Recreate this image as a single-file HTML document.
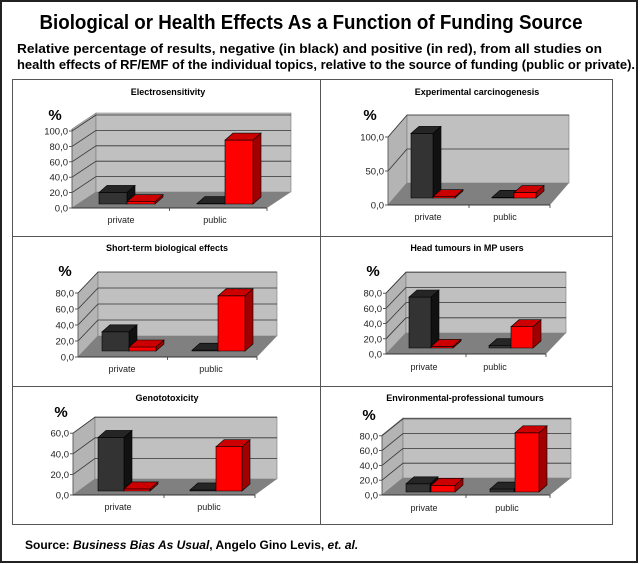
<!DOCTYPE html>
<html><head><meta charset="utf-8"><style>
html,body{margin:0;padding:0;background:#fff;width:640px;height:564px;overflow:hidden}
svg{display:block}
text{font-family:"Liberation Sans",Arial,sans-serif}
</style></head><body>
<svg id="s" width="640" height="564" viewBox="0 0 640 564" xmlns="http://www.w3.org/2000/svg">
<rect x="0" y="0" width="640" height="564" fill="#fff"/>
<rect x="1" y="1" width="636" height="561" fill="none" stroke="#222" stroke-width="2"/>
<text x="311" y="29" text-anchor="middle" font-size="20" font-weight="bold" textLength="543" lengthAdjust="spacingAndGlyphs">Biological or Health Effects As a Function of Funding Source</text>
<text x="17" y="53" font-size="12.5" font-weight="bold" textLength="585" lengthAdjust="spacingAndGlyphs">Relative percentage of results, negative (in black) and positive (in red), from all studies on</text>
<text x="17" y="69" font-size="12.5" font-weight="bold" textLength="618" lengthAdjust="spacingAndGlyphs">health effects of RF/EMF of the individual topics, relative to the source of funding (public or private).</text>
<rect x="12.5" y="79.5" width="600" height="445" fill="none" stroke="#555" stroke-width="1"/>
<line x1="320.5" y1="79" x2="320.5" y2="525" stroke="#555"/>
<line x1="12" y1="236.5" x2="613" y2="236.5" stroke="#555"/>
<line x1="12" y1="386.5" x2="613" y2="386.5" stroke="#555"/>
<text x="168" y="95" text-anchor="middle" font-size="9" font-weight="bold">Electrosensitivity</text>
<text x="477" y="95" text-anchor="middle" font-size="9" font-weight="bold">Experimental carcinogenesis</text>
<text x="167" y="251" text-anchor="middle" font-size="9" font-weight="bold">Short-term biological effects</text>
<text x="467" y="251" text-anchor="middle" font-size="9" font-weight="bold">Head tumours in MP users</text>
<text x="167" y="401" text-anchor="middle" font-size="9" font-weight="bold">Genototoxicity</text>
<text x="465" y="401" text-anchor="middle" font-size="9" font-weight="bold">Environmental-professional tumours</text>
<text x="55" y="120" text-anchor="middle" font-size="15" font-weight="bold">%</text>
<text x="370" y="120" text-anchor="middle" font-size="15" font-weight="bold">%</text>
<text x="65" y="276" text-anchor="middle" font-size="15" font-weight="bold">%</text>
<text x="373" y="276" text-anchor="middle" font-size="15" font-weight="bold">%</text>
<text x="61" y="417" text-anchor="middle" font-size="15" font-weight="bold">%</text>
<text x="369" y="420" text-anchor="middle" font-size="15" font-weight="bold">%</text>
<g font-size="9" fill="#222" text-anchor="middle">
<text x="121" y="223">private</text><text x="215" y="223">public</text>
<text x="428" y="220">private</text><text x="505" y="220">public</text>
<text x="122" y="372">private</text><text x="211" y="372">public</text>
<text x="424" y="370">private</text><text x="495" y="370">public</text>
<text x="118" y="510">private</text><text x="209" y="510">public</text>
<text x="424" y="511">private</text><text x="507" y="511">public</text>
</g>
<text x="25" y="549" font-size="12" font-weight="bold">Source:  <tspan font-style="italic">Business Bias As Usual</tspan>, Angelo Gino Levis, <tspan font-style="italic">et. al.</tspan></text>
<g id="charts"></g>
</svg>
<script>
var out='';
function P(pts,fill,st){return '<polygon points="'+pts.map(function(p){return p[0]+','+p[1]}).join(' ')+'" fill="'+fill+'"'+(st?' stroke="'+st+'" stroke-width="0.6"':'')+'/>';}
function L(x1,y1,x2,y2,c,w){return '<line x1="'+x1+'" y1="'+y1+'" x2="'+x2+'" y2="'+y2+'" stroke="'+(c||'#222')+'" stroke-width="'+(w||0.8)+'"/>';}
function T(x,y,t){return '<text x="'+x+'" y="'+y+'" font-size="9.5" text-anchor="end" fill="#222">'+t+'</text>';}
function chart(c){
 var ox=c.ox,oy=c.oy,W=c.W,dx=c.dx,dy=c.dy,s=c.s,H=c.H;
 var s1='';
 s1+=P([[ox,oy],[ox+dx,oy+dy],[ox+dx,oy+dy-H],[ox,oy-H]],'#b4b4b4','#777');
 s1+=P([[ox+dx,oy+dy],[ox+dx+W,oy+dy],[ox+dx+W,oy+dy-H],[ox+dx,oy+dy-H]],'#c0c0c0','#777');
 c.ticks.forEach(function(v){
  var y=oy-v*s;
  if(v>0){s1+=L(ox,y,ox+dx,y+dy,'#333',0.8);s1+=L(ox+dx,y+dy,ox+dx+W,y+dy,'#333',0.8);}
  s1+=L(ox-3,y,ox,y,'#333',0.8);
  s1+=T(ox-4,y+3.5,v+',0');
 });
 s1+=P([[ox,oy],[ox+dx,oy+dy],[ox+dx+W,oy+dy],[ox+W,oy]],'#808080');
 s1+=L(ox,oy,ox,oy-H,'#555',0.8);
 s1+=L(ox,oy,ox+W,oy,'#333',0.9);
 s1+=L(ox+W/2,oy,ox+W/2,oy+3,'#333',0.8);
 s1+=L(ox+W,oy,ox+W,oy+3,'#333',0.8);
 var by=oy+c.bo, bdx=8, bdy=-7, bw=c.bw;
 c.bars.forEach(function(b,i){
  var x=b[0],h=Math.max(b[1]*s,0.5),red=(i%2==1);
  var f=red?'#ff0000':'#333333', t=red?'#cc0000':'#252525', sd=red?'#a00000':'#111111';
  var y=by-h;
  s1+=P([[x+bw,by],[x+bw+bdx,by+bdy],[x+bw+bdx,y+bdy],[x+bw,y]],sd,'#000');
  s1+=P([[x,by],[x+bw,by],[x+bw,y],[x,y]],f,'#000');
  s1+=P([[x,y],[x+bdx,y+bdy],[x+bw+bdx,y+bdy],[x+bw,y]],t,'#000');
 });
 out+=s1;
}
chart({ox:72,oy:208,W:195,dx:24,dy:-16,s:0.77,H:79,ticks:[0,20,40,60,80,100],bw:28,bo:-4,
 bars:[[99,15],[127,3],[197,0],[225,83]]});
chart({ox:388,oy:205,W:162,dx:19,dy:-22,s:0.68,H:68,ticks:[0,50,100],bw:22,bo:-7,
 bars:[[411,95],[433,2],[492,1],[514,8]]});
chart({ox:78,oy:357,W:179,dx:20,dy:-21,s:0.8,H:64,ticks:[0,20,40,60,80],bw:27,bo:-6,
 bars:[[102,24],[129,5],[192,1],[218,69]]});
chart({ox:386,oy:354,W:160,dx:20,dy:-21,s:0.76,H:61,ticks:[0,20,40,60,80],bw:22,bo:-6,
 bars:[[409,67],[431,2],[489,3],[511,28]]});
chart({ox:73,oy:495,W:182,dx:22,dy:-16,s:1.03,H:62,ticks:[0,20,40,60],bw:26,bo:-4,
 bars:[[98,52],[124,2],[190,1],[216,43]]});
chart({ox:382,oy:495,W:168,dx:21,dy:-17,s:0.74,H:60,ticks:[0,20,40,60,80],bw:24,bo:-3,
 bars:[[406,11],[431,9],[490,4],[515,80]]});
document.getElementById('charts').innerHTML=out;
</script>
</body></html>
